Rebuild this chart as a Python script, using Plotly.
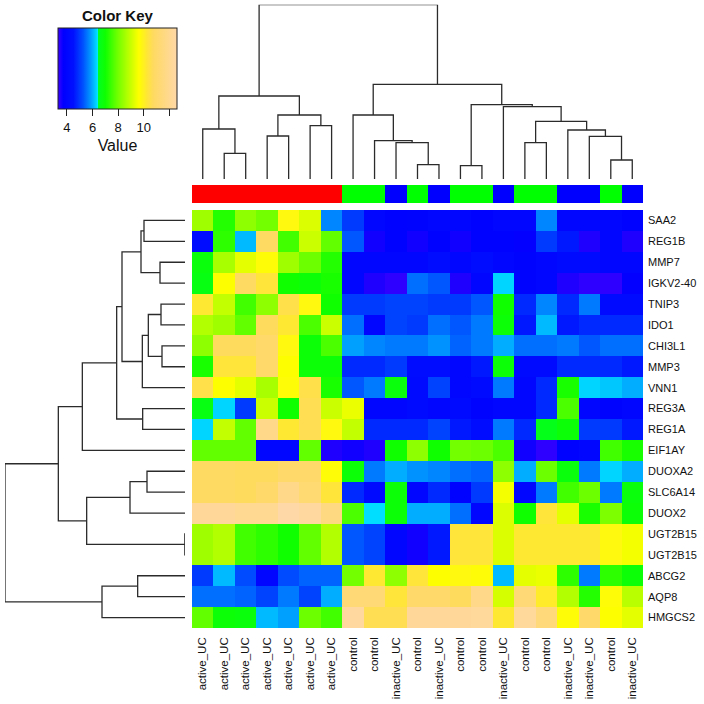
import plotly.graph_objects as go

# ---------------- data ----------------
col_labels = ["active_UC"] * 7 + ["control", "control", "inactive_UC", "control", "inactive_UC",
                                  "control", "control", "inactive_UC", "control", "control",
                                  "inactive_UC", "inactive_UC", "control", "inactive_UC"]
group_codes = {"active_UC": 0, "control": 1, "inactive_UC": 2}
group_colors = ["#FF0000", "#00FF00", "#0000FF"]

row_labels = ["SAA2", "REG1B", "MMP7", "IGKV2-40", "TNIP3", "IDO1", "CHI3L1", "MMP3", "VNN1",
              "REG3A", "REG1A", "EIF1AY", "DUOXA2", "SLC6A14", "DUOX2", "UGT2B15", "UGT2B15",
              "ABCG2", "AQP8", "HMGCS2"]

saa2 = [8.5, 7.2, 8.3, 8.0, 9.8, 9.2, 5.7, 5.0, 4.0, 3.8, 3.9, 4.0, 4.0, 3.8, 4.0, 4.0, 5.7, 4.0, 4.0, 4.0, 3.8]
reg1b = [4.3, 7.3, 6.1, 10.8, 7.5, 9.0, 7.8, 5.3, 3.6, 3.8, 3.6, 3.8, 3.6, 3.8, 3.8, 3.7, 5.0, 4.6, 3.5, 4.0, 3.5]
mmp7 = [6.8, 8.6, 9.3, 9.7, 8.5, 7.9, 7.2, 4.0, 4.0, 4.0, 4.0, 4.3, 4.0, 4.3, 4.0, 3.9, 4.0, 4.2, 4.2, 4.0, 4.0]
igkv2_40 = [6.7, 9.6, 10.8, 10.3, 7.0, 6.9, 7.1, 4.0, 3.5, 3.4, 5.5, 5.3, 3.5, 4.0, 6.3, 3.9, 4.0, 3.5, 3.4, 3.4, 3.7]
tnip3 = [10.2, 8.9, 7.5, 8.3, 10.5, 9.8, 7.0, 5.0, 5.0, 5.1, 5.1, 5.0, 5.0, 5.3, 7.0, 4.8, 5.7, 4.8, 5.6, 4.2, 4.2]
ido1 = [8.7, 8.5, 7.8, 10.7, 10.2, 7.6, 9.0, 5.5, 4.0, 5.1, 5.0, 5.5, 5.3, 5.6, 6.9, 4.6, 6.1, 4.6, 4.8, 4.8, 4.8]
chi3l1 = [8.3, 10.7, 10.7, 11.0, 9.8, 6.9, 7.6, 5.9, 5.7, 5.6, 5.6, 5.8, 5.4, 5.6, 6.0, 5.5, 5.5, 5.6, 5.3, 5.5, 5.5]
mmp3 = [7.1, 10.3, 10.3, 11.0, 9.6, 6.9, 6.9, 4.8, 4.8, 5.0, 4.3, 4.3, 4.0, 4.6, 6.9, 4.2, 4.2, 4.8, 4.8, 4.8, 4.6]
vnn1 = [10.5, 9.6, 9.3, 8.6, 9.7, 10.5, 7.1, 5.3, 5.6, 6.8, 4.2, 5.1, 4.0, 4.2, 5.6, 4.0, 4.8, 7.1, 6.3, 6.2, 6.0]
reg3a = [6.7, 6.3, 5.0, 9.0, 7.0, 10.6, 9.0, 9.4, 4.0, 4.0, 4.2, 4.0, 4.2, 3.9, 4.0, 4.0, 4.8, 7.6, 4.0, 3.9, 4.0]
reg1a = [6.3, 8.9, 7.8, 11.8, 10.2, 10.6, 9.8, 8.9, 4.8, 4.8, 4.8, 5.1, 4.6, 4.3, 5.6, 4.8, 6.6, 6.9, 5.0, 5.0, 4.6]
eif1ay = [7.8, 7.8, 7.8, 4.0, 4.0, 7.8, 3.5, 3.6, 3.5, 7.0, 8.3, 7.0, 8.0, 7.9, 7.6, 3.6, 3.4, 3.8, 4.0, 7.5, 7.1]
duoxa2 = [10.8, 10.8, 10.7, 10.7, 11.0, 11.0, 9.7, 6.9, 5.6, 6.0, 5.8, 5.7, 5.5, 5.4, 8.3, 6.0, 7.9, 6.8, 5.6, 6.3, 6.0]
slc6a14 = [10.8, 10.8, 10.7, 11.0, 11.8, 11.2, 10.3, 4.8, 4.2, 6.9, 4.0, 4.8, 3.8, 5.0, 9.5, 4.0, 5.6, 7.5, 7.9, 5.6, 6.8]
duox2 = [12.2, 12.2, 12.0, 12.0, 12.6, 12.4, 11.6, 7.6, 6.35, 6.9, 6.0, 6.0, 5.5, 4.0, 9.2, 7.0, 10.3, 9.3, 7.1, 8.1, 6.9]
ugt2b15_a = [8.5, 8.7, 7.5, 7.3, 7.0, 7.8, 8.7, 5.3, 5.1, 4.0, 3.6, 4.6, 10.3, 10.3, 9.2, 10.2, 10.2, 10.2, 10.2, 9.8, 9.5]
ugt2b15_b = [8.5, 8.7, 7.5, 7.3, 7.0, 7.8, 8.7, 5.3, 5.1, 4.0, 3.6, 4.6, 10.3, 10.3, 9.2, 10.2, 10.2, 10.2, 10.2, 9.8, 9.5]
abcg2 = [5.0, 6.1, 5.2, 4.0, 5.2, 5.4, 5.4, 8.0, 10.2, 8.3, 10.3, 9.6, 9.8, 9.7, 6.1, 9.3, 9.4, 7.3, 5.6, 7.3, 6.9]
aqp8 = [5.5, 5.5, 5.4, 5.1, 5.6, 5.1, 6.0, 11.3, 11.3, 10.3, 11.0, 11.0, 10.7, 11.8, 9.1, 11.3, 10.1, 8.7, 7.2, 9.7, 8.8]
hmgcs2 = [7.8, 6.9, 6.8, 6.1, 5.9, 7.9, 7.5, 12.4, 10.6, 10.6, 12.2, 12.2, 12.2, 12.3, 10.2, 12.3, 11.4, 9.7, 11.0, 9.6, 9.3]

z_values = [saa2, reg1b, mmp7, igkv2_40, tnip3, ido1, chi3l1, mmp3, vnn1, reg3a, reg1a, eif1ay,
            duoxa2, slc6a14, duox2, ugt2b15_a, ugt2b15_b, abcg2, aqp8, hmgcs2]

# dendrogram merges: (child_a, child_b, height); leaves are 0..n-1, merge k gets id n+k
col_merges = [(1, 2, 77), (0, 21, 150), (3, 4, 129), (5, 6, 160), (23, 24, 192), (22, 25, 249),
              (10, 11, 43), (9, 27, 109), (8, 28, 115), (7, 29, 192), (12, 13, 40), (15, 16, 109),
              (19, 20, 57), (18, 33, 128), (17, 34, 147), (32, 35, 173), (14, 36, 217),
              (31, 37, 223), (30, 38, 284), (26, 39, 523)]
row_merges = [(0, 1, 123), (2, 3, 75), (20, 21, 132), (4, 5, 72), (6, 7, 69), (23, 24, 110),
              (25, 8, 128), (22, 26, 189), (9, 10, 127), (27, 28, 205), (29, 11, 308),
              (12, 13, 114), (31, 14, 165), (15, 16, 0.5), (32, 33, 295), (30, 34, 380),
              (17, 18, 142), (36, 19, 249), (35, 37, 540)]

key_ticks = [4, 6, 8, 10, 12]
key_ticktext = ["4", "6", "8", "10", ""]
zmin, zmax = 3.3, 12.6

# ---------------- helpers ----------------
W = H = 704.0
FONT = "Liberation Sans, Arial, sans-serif"


def px_x(p):
    return p / W


def px_y(p):
    return 1 - p / H


def dendro(merges, n):
    pos = {i: float(i) for i in range(n)}
    hgt = {i: 0.0 for i in range(n)}
    P, Hh = [], []
    for k, (a, b, h) in enumerate(merges):
        P += [pos[a], pos[a], pos[b], pos[b], None]
        Hh += [hgt[a], h, h, hgt[b], None]
        pos[n + k] = (pos[a] + pos[b]) / 2
        hgt[n + k] = h
    return P, Hh


n_cols = len(col_labels)
n_rows = len(row_labels)

colorscale = [
    [0.000, "#3C00FF"], [0.045, "#0000FF"], [0.130, "#0010FF"], [0.210, "#0050FF"],
    [0.280, "#00A0FF"], [0.325, "#00D8FF"], [0.336, "#00F0FF"], [0.340, "#00FF20"],
    [0.400, "#10FF00"], [0.500, "#70FF00"], [0.600, "#C0FF00"], [0.680, "#FFFF00"],
    [0.740, "#FFE830"], [0.800, "#FFDA60"], [1.000, "#FFD8A8"],
]

fig = go.Figure()

fig.add_trace(go.Heatmap(
    z=z_values, x=list(range(n_cols)), y=list(range(n_rows)),
    colorscale=colorscale, zmin=zmin, zmax=zmax, xaxis="x", yaxis="y",
    hoverinfo="skip",
    colorbar=dict(orientation="h", x=px_x(58), xanchor="left", y=px_y(28), yanchor="top",
                  len=119, lenmode="pixels", thickness=81, thicknessmode="pixels",
                  xpad=0, ypad=0, outlinewidth=1, outlinecolor="#222",
                  tickvals=key_ticks, ticktext=key_ticktext, ticks="outside", ticklen=7,
                  tickcolor="#222", tickfont=dict(size=13, family=FONT, color="#111"),
                  title=dict(text="Value", side="bottom", font=dict(size=16, family=FONT, color="#111"))),
))

fig.add_trace(go.Heatmap(
    z=[[group_codes[c] for c in col_labels]], x=list(range(n_cols)), y=[0],
    colorscale=[[0, group_colors[0]], [0.5, group_colors[1]], [1, group_colors[2]]],
    zmin=0, zmax=2, showscale=False, xaxis="x2", yaxis="y2", hoverinfo="skip",
))

cx, ch = dendro(col_merges, n_cols)
fig.add_trace(go.Scatter(x=cx, y=ch, mode="lines", line=dict(color="#2b2b2b", width=1.3),
                         xaxis="x3", yaxis="y3", hoverinfo="skip", showlegend=False))

ry, rh = dendro(row_merges, n_rows)
fig.add_trace(go.Scatter(x=rh, y=ry, mode="lines", line=dict(color="#2b2b2b", width=1.3),
                         xaxis="x4", yaxis="y4", hoverinfo="skip", showlegend=False))

hm_x = [px_x(192), px_x(643)]
hm_y = [px_y(628), px_y(210)]
hidden = dict(visible=False, showgrid=False, zeroline=False, automargin=False)

fig.update_layout(
    width=704, height=704, margin=dict(l=0, r=0, t=0, b=0, autoexpand=False),
    paper_bgcolor="white", plot_bgcolor="white", showlegend=False,
    font=dict(family=FONT, color="#111"),
    xaxis=dict(domain=hm_x, range=[-0.5, n_cols - 0.5], anchor="y", automargin=False,
               tickmode="array", tickvals=list(range(n_cols)), ticktext=col_labels,
               tickangle=-90, ticks="", showgrid=False, zeroline=False, showline=False,
               tickfont=dict(size=11.5, family=FONT, color="#111"), ticklabelstandoff=6),
    yaxis=dict(domain=hm_y, range=[n_rows - 0.5, -0.5], anchor="x", side="right", automargin=False,
               tickmode="array", tickvals=list(range(n_rows)), ticktext=row_labels,
               ticks="", showgrid=False, zeroline=False, showline=False,
               tickfont=dict(size=11, family=FONT, color="#111"), ticklabelstandoff=4),
    xaxis2=dict(domain=hm_x, range=[-0.5, n_cols - 0.5], anchor="y2", **hidden),
    yaxis2=dict(domain=[px_y(203), px_y(185)], range=[-0.5, 0.5], anchor="x2", **hidden),
    xaxis3=dict(domain=hm_x, range=[-0.5, n_cols - 0.5], anchor="y3", **hidden),
    yaxis3=dict(domain=[px_y(179), px_y(179 - 523 / 3)], range=[0, 523], anchor="x3", **hidden),
    xaxis4=dict(domain=[px_x(5), px_x(185)], range=[540, 0], anchor="y4", **hidden),
    yaxis4=dict(domain=hm_y, range=[n_rows - 0.5, -0.5], anchor="x4", **hidden),
    annotations=[dict(text="<b>Color Key</b>", x=px_x(118), y=px_y(15), xref="paper", yref="paper",
                      showarrow=False, xanchor="center", yanchor="middle",
                      font=dict(size=15, family=FONT, color="#111"))],
)

# the page's default 8px body margin would push the 704px figure off the window
fig.write_html("out.html", config={"displayModeBar": False},
               post_script="document.body.style.margin='0px';")
